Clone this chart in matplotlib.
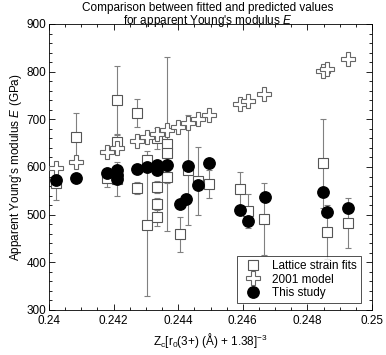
import matplotlib
matplotlib.use("Agg")
import matplotlib.pyplot as plt
from matplotlib.lines import Line2D
from matplotlib.ticker import MultipleLocator

plt.rcParams["font.family"] = ["Liberation Sans", "DejaVu Sans"]
plt.rcParams["mathtext.fontset"] = "custom"
plt.rcParams["mathtext.rm"] = "Liberation Sans"
plt.rcParams["mathtext.it"] = "Liberation Sans:italic"

# Lattice strain fits: x, E (GPa), error
lattice_x = [0.24022, 0.24084, 0.24180, 0.24211, 0.24211, 0.24211, 0.24272, 0.24272,
             0.24303, 0.24303, 0.24334, 0.24334, 0.24334, 0.24334, 0.24365, 0.24365,
             0.24365, 0.24406, 0.24430, 0.24461, 0.24495, 0.24591, 0.24616, 0.24666,
             0.24848, 0.24861, 0.24926]
lattice_e = [566, 663, 577, 741, 652, 575, 713, 556,
             615, 478, 660, 558, 522, 495, 648, 630,
             579, 459, 594, 571, 564, 554, 508, 491,
             608, 464, 483]
lattice_err = [35, 50, 19, 71, 15, 36, 30, 13,
               19, 148, 22, 12, 12, 19, 182, 15,
               12, 37, 116, 72, 29, 36, 36, 75,
               93, 56, 53]

# 2001 model predictions
model_x = [0.24022, 0.24084, 0.24180, 0.24211, 0.24272, 0.24303, 0.24334, 0.24365,
           0.24399, 0.24430, 0.24461, 0.24495, 0.24591, 0.24616, 0.24666, 0.24848,
           0.24861, 0.24926]
model_e = [598, 610, 631, 640, 655, 663, 669, 678,
           684, 692, 701, 709, 732, 738, 753, 801,
           806, 826]

# This study
study_x = [0.24022, 0.24084, 0.24180, 0.24211, 0.24211, 0.24211, 0.24272, 0.24303,
           0.24334, 0.24334, 0.24365, 0.24406, 0.24424, 0.24430, 0.24461, 0.24495,
           0.24591, 0.24616, 0.24669, 0.24848, 0.24861, 0.24926]
study_e = [573, 577, 587, 594, 583, 575, 595, 600,
           604, 594, 604, 522, 533, 602, 562, 608,
           510, 487, 537, 548, 506, 514]

fig = plt.figure(figsize=(3.86, 3.55), dpi=100)
ax = fig.add_axes([49 / 386, 45 / 355, 323 / 386, 286 / 355])

sq_style = dict(marker="s", ms=7.2, mfc="white", mec="#555555", mew=0.8, ls="none")
cross_style = dict(marker="P", ms=9.5, mfc="white", mec="#666666", mew=0.8, ls="none")
dot_style = dict(marker="o", ms=8.2, color="black", ls="none")

ax.errorbar(lattice_x, lattice_e, yerr=lattice_err, ecolor="#808080",
            elinewidth=0.8, capsize=2, capthick=0.8, zorder=2, **sq_style)
ax.plot(model_x, model_e, zorder=3, **cross_style)
ax.plot(study_x, study_e, zorder=4, **dot_style)

ax.set_xlim(0.24, 0.25)
ax.set_ylim(300, 900)
ax.xaxis.set_minor_locator(MultipleLocator(0.0005))
ax.yaxis.set_major_locator(MultipleLocator(100))
ax.yaxis.set_minor_locator(MultipleLocator(20))
ax.set_xticks([0.24, 0.242, 0.244, 0.246, 0.248, 0.25])
ax.set_xticklabels(["0.24", "0.242", "0.244", "0.246", "0.248", "0.25"])
ax.tick_params(which="both", direction="in", top=True, right=True,
               labelsize=8.5)
ax.tick_params(axis="y", pad=2)
ax.tick_params(axis="x", pad=3.5)
ax.tick_params(which="major", length=4, width=0.6)
ax.tick_params(which="minor", length=2, width=0.6)
for s in ax.spines.values():
    s.set_linewidth(0.6)

# two-line title as one text, tight above the frame
fig.text(208 / 386, 1 - 1.5 / 355,
         "Comparison between fitted and predicted values\n"
         "for apparent Young's modulus $E$",
         ha="center", va="top", fontsize=8.5, linespacing=0.92,
         multialignment="center")

ax.set_ylabel("Apparent Young's modulus $E$ (GPa)", fontsize=8.5, labelpad=2)
ax.set_xlabel(r"Z$_\mathregular{c}$[r$_\mathregular{0}$(3+) (Å) + 1.38]$^\mathregular{-3}$",
              fontsize=8.5, labelpad=3)

handles = [Line2D([], [], **sq_style), Line2D([], [], **cross_style),
           Line2D([], [], **dot_style)]
labels = ["Lattice strain fits", "2001 model", "This study"]
leg = ax.legend(handles, labels, loc="lower right", fontsize=8.5, frameon=True,
                fancybox=False, edgecolor="black", borderpad=0.35,
                borderaxespad=0, handletextpad=0.6, labelspacing=0.12,
                bbox_to_anchor=(0.966, 0.024))
leg.get_frame().set_linewidth(0.6)

fig.savefig("out.png", dpi=100)
